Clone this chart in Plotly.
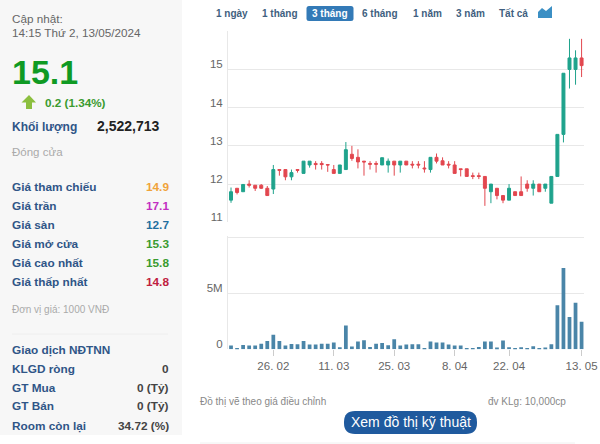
import plotly.graph_objects as go

W, H = 600, 444

dates = ["15/02","16/02","19/02","20/02","21/02","22/02","23/02","26/02","27/02","28/02","29/02",
         "01/03","04/03","05/03","06/03","07/03","08/03","11/03","12/03","13/03","14/03","15/03",
         "18/03","19/03","20/03","21/03","22/03","25/03","26/03","27/03","28/03","29/03",
         "01/04","02/04","03/04","04/04","05/04","08/04","09/04","10/04","11/04","12/04",
         "15/04","16/04","17/04","19/04","22/04","23/04","24/04","25/04","26/04",
         "02/05","03/05","06/05","07/05","08/05","09/05","10/05","13/05"]
opens  = [11.58,11.89,11.80,12.00,11.97,11.97,11.89,11.87,12.38,12.38,12.19,12.38,12.28,12.50,12.54,12.54,12.51,12.38,12.28,12.38,
          12.78,12.70,12.60,12.54,12.54,12.50,12.50,12.60,12.50,12.60,12.52,12.52,12.42,12.38,12.70,12.61,12.52,12.50,12.40,12.40,
          12.22,12.22,12.20,11.80,11.89,11.70,11.58,11.80,11.80,12.00,11.89,12.00,11.89,11.50,12.20,13.30,15.00,15.00,15.30]
closes = [11.80,11.78,11.99,11.97,11.89,11.89,11.70,12.38,12.36,12.19,12.30,12.36,12.60,12.60,12.51,12.51,12.50,12.28,12.50,12.90,
          12.67,12.58,12.58,12.52,12.52,12.69,12.60,12.50,12.60,12.50,12.50,12.50,12.40,12.70,12.60,12.50,12.50,12.28,12.38,12.20,
          12.20,12.20,11.89,12.00,11.70,11.58,11.89,11.70,11.70,11.89,12.00,11.80,12.00,12.20,13.30,14.90,15.30,15.30,15.10]
highs  = [11.91,11.89,11.99,12.10,11.97,12.00,11.95,12.50,12.38,12.38,12.38,12.38,12.60,12.60,12.60,12.60,12.52,12.50,12.50,13.10,
          13.00,12.91,12.60,12.60,12.60,12.69,12.67,12.60,12.60,12.60,12.60,12.60,12.60,12.70,12.80,12.70,12.60,12.60,12.40,12.40,
          12.30,12.30,12.20,12.00,11.89,11.70,12.00,11.80,12.20,12.10,12.10,12.00,12.00,12.20,13.30,14.90,15.80,15.50,15.80]
lows   = [11.51,11.73,11.80,11.91,11.82,11.87,11.70,11.74,12.22,12.10,12.10,12.30,12.28,12.43,12.38,12.38,12.32,12.28,12.28,12.38,
          12.61,12.41,12.22,12.38,12.30,12.50,12.30,12.22,12.30,12.50,12.41,12.41,12.30,12.30,12.54,12.50,12.41,12.28,12.20,12.20,
          12.13,12.13,11.43,11.50,11.60,11.50,11.58,11.70,11.70,11.80,11.70,11.80,11.80,11.50,12.20,13.09,14.50,14.60,14.80]
volumes = [0.33,0.09,0.39,0.33,0.33,0.50,0.75,1.30,0.75,0.33,0.48,0.45,0.75,0.42,0.42,0.50,0.50,0.60,0.18,2.12,
           0.24,0.69,0.81,0.21,0.50,0.57,0.36,0.90,0.33,0.42,0.45,0.45,0.12,0.69,0.60,0.60,0.42,0.33,0.33,0.03,
           0.12,0.21,0.69,0.69,0.15,0.78,0.18,0.03,0.18,0.03,0.27,0.03,0.15,0.45,3.92,7.25,2.87,4.16,2.45]
tick_dates = ["26/02","11/03","25/03","08/04","22/04","13/05"]
tick_labels = ["26. 02","11. 03","25. 03","8. 04","22. 04","13. 05"]
price_ticks = [11,12,13,14,15,16]
price_labels = ["11","12","13","14","15",""]
vol_ticks = [0,5,10]
vol_labels = ["0","5M",""]

FONT = "Liberation Sans, Arial, sans-serif"
NAVY = "#2f5587"
UP, DOWN = "#1fa38c", "#e2474f"
GRID = "#e8e8e8"

fx = lambda x: x / W
fy = lambda y: 1 - y / H

fig = go.Figure()
fig.add_trace(go.Candlestick(x=dates, open=opens, high=highs, low=lows, close=closes,
    xaxis="x", yaxis="y",
    increasing=dict(line=dict(color=UP, width=1), fillcolor=UP),
    decreasing=dict(line=dict(color=DOWN, width=1), fillcolor=DOWN),
    whiskerwidth=0, showlegend=False))
fig.add_trace(go.Bar(x=dates, y=volumes, xaxis="x2", yaxis="y2",
    marker=dict(color="#4a85a8", line=dict(width=0)), width=0.62, showlegend=False))

annots = []
def text(x, y, s, size=12, color="#333", bold=False, anchor="left"):
    annots.append(dict(x=fx(x), y=fy(y), xref="paper", yref="paper", xanchor=anchor, yanchor="middle",
                       text=f"<b>{s}</b>" if bold else s, showarrow=False,
                       font=dict(family=FONT, size=size, color=color), borderpad=0, borderwidth=0))

text(12, 18, "Cập nhật:", 11.7, "#666")
text(12, 32, "14:15 Thứ 2, 13/05/2024", 11.7, "#666")
text(12, 72, "15.1", 34, "#0f9a23", True)
text(45, 103, "0.2 (1.34%)", 11.7, "#3a9b2f", True)
text(12, 127, "Khối lượng", 12, NAVY, True)
text(97, 126, "2,522,713", 14, "#222", True)
text(12, 152, "Đóng cửa", 11.5, "#aaa")

rows = [(187,"Giá tham chiếu","14.9","#f0a33a"),(205.5,"Giá trần","17.1","#c22fc2"),
        (225,"Giá sàn","12.7","#1f6f9f"),(244,"Giá mở cửa","15.3","#3a9b2f"),
        (263,"Giá cao nhất","15.8","#3a9b2f"),(282,"Giá thấp nhất","14.8","#c0203f")]
for y, a, b, c in rows:
    text(12, y, a, 11.8, NAVY, True)
    text(168.5, y, b, 11.8, c, True, "right")
text(12, 309, "Đơn vị giá: 1000 VNĐ", 10, "#aaa")
text(12, 350, "Giao dịch NĐTNN", 11.8, NAVY, True)
for y, a, b in [(369,"KLGD ròng","0"),(388,"GT Mua","0 (Tỷ)"),(406,"GT Bán","0 (Tỷ)"),(426,"Room còn lại","34.72 (%)")]:
    text(12, y, a, 11.8, NAVY, True)
    text(168.5, y, b, 11.8, "#444", True, "right")

for x, s in [(232,"1 ngày"),(280,"1 tháng"),(380,"6 tháng"),(427,"1 năm"),(470,"3 năm"),(513,"Tất cả")]:
    text(x, 13, s, 10, "#3f5f80", True, "center")
text(330, 13, "3 tháng", 10, "white", True, "center")
text(200, 401, "Đồ thị vẽ theo giá điều chỉnh", 10, "#888")
text(488, 401, "đv KLg: 10,000cp", 10, "#888")
text(410.5, 422, "Xem đồ thị kỹ thuật", 14, "white", False, "center")

def rrect(x0, y0, x1, y1, r):
    X0, X1 = fx(x0), fx(x1); Y0, Y1 = fy(y0), fy(y1)
    rx, ry = r / W, r / H
    return (f"M{X0+rx},{Y0} L{X1-rx},{Y0} Q{X1},{Y0} {X1},{Y0-ry} L{X1},{Y1+ry} Q{X1},{Y1} {X1-rx},{Y1} "
            f"L{X0+rx},{Y1} Q{X0},{Y1} {X0},{Y1+ry} L{X0},{Y0-ry} Q{X0},{Y0} {X0+rx},{Y0} Z")

def poly(pts):
    return "M" + " L".join(f"{fx(x)},{fy(y)}" for x, y in pts) + " Z"

shapes = [
    dict(type="rect", xref="paper", yref="paper", x0=0, x1=fx(182), y0=fy(435), y1=1, fillcolor="#f7f7f7", line_width=0, layer="below"),
    dict(type="line", xref="paper", yref="paper", x0=fx(12), x1=fx(168), y0=fy(334), y1=fy(334), line=dict(color="#eeeeee", width=1), layer="below"),
    dict(type="path", xref="paper", yref="paper", path=rrect(306.5, 6, 353.5, 21, 2.5), fillcolor="#337ab7", line_width=0, layer="below"),
    dict(type="path", xref="paper", yref="paper", path=rrect(344, 411, 477, 434, 11), fillcolor="#1f5a9e", line_width=0, layer="below"),
    dict(type="path", xref="paper", yref="paper", path=poly([(29,95),(36,102.5),(32,102.5),(32,109),(26,109),(26,102.5),(21.5,102.5)]), fillcolor="#8cbf3f", line_width=0),
    dict(type="path", xref="paper", yref="paper", path=poly([(538,18),(538,12),(542,8),(546,11),(552,6),(552,18)]), fillcolor="#3b8fc4", line_width=0),
    dict(type="line", xref="paper", yref="paper", x0=fx(200), x1=fx(575), y0=fy(443), y1=fy(443), line=dict(color="#f0f0f0", width=1), layer="below"),
]

axis_font = dict(family=FONT, size=11.5, color="#666")
fig.update_layout(
    width=W, height=H, margin=dict(l=0, r=0, t=0, b=0), autosize=False,
    paper_bgcolor="white", plot_bgcolor="white", showlegend=False, bargap=0.35,
    annotations=annots, shapes=shapes,
    xaxis=dict(domain=[fx(228), fx(584)], anchor="y", type="category", categoryorder="array", categoryarray=dates,
               range=[-0.5, 58.4], rangeslider=dict(visible=False), showticklabels=False, showgrid=False,
               zeroline=False, showline=False, ticks="", automargin=False),
    yaxis=dict(domain=[fy(222.3), fy(31.2)], anchor="x", range=[11, 16], tickvals=price_ticks, ticktext=price_labels,
               showgrid=True, gridcolor=GRID, gridwidth=1, zeroline=False, showline=True, linecolor=GRID,
               ticks="", tickfont=axis_font, ticklabelstandoff=2, ticklabelshift=-5, automargin=False),
    xaxis2=dict(domain=[fx(228), fx(584)], anchor="y2", type="category", categoryorder="array", categoryarray=dates,
                range=[-0.5, 58.4], tickvals=tick_dates, ticktext=tick_labels, showgrid=False, zeroline=False,
                showline=False, ticks="outside", ticklen=6, tickcolor="#cccccc", tickwidth=1, tickfont=axis_font,
                automargin=False),
    yaxis2=dict(domain=[fy(349.3), fy(236)], anchor="x2", range=[0, 10.1], tickvals=vol_ticks, ticktext=vol_labels,
                showgrid=True, gridcolor=GRID, gridwidth=1, zeroline=False, showline=True, linecolor=GRID,
                ticks="", tickfont=axis_font, ticklabelstandoff=2, ticklabelshift=-5, automargin=False),
)
fig.write_html("out.html", config=dict(displayModeBar=False),
               post_script="document.body.style.margin='0';document.body.style.overflow='hidden';")
